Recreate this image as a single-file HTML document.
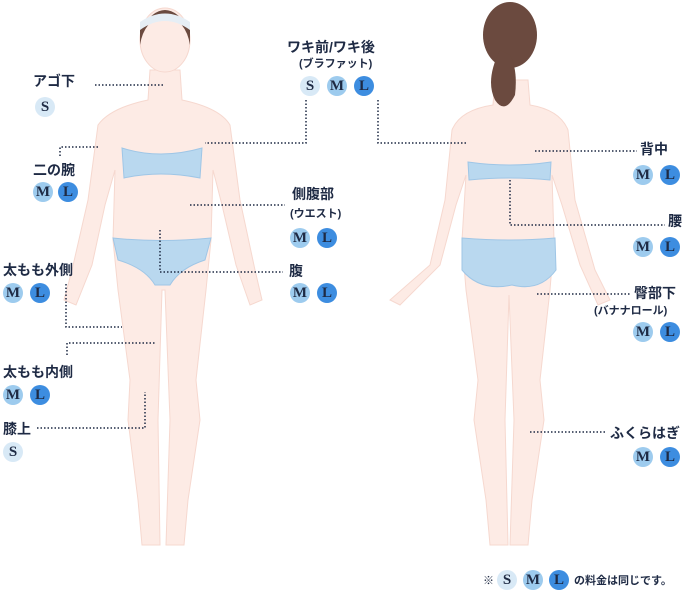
<!DOCTYPE html>
<html><head><meta charset="utf-8"><style>
body{margin:0;width:691px;height:594px;background:#fff;overflow:hidden;position:relative;font-family:"Liberation Sans","Noto Sans CJK JP",sans-serif;}
svg{position:absolute;left:0;top:0}
.t{position:absolute;font-weight:bold;color:#1e2a44;font-size:14px;line-height:16px;white-space:nowrap}
.s{font-size:11px;line-height:12px}
.b{position:absolute;width:20px;height:20px;border-radius:50%;font-family:"Liberation Serif",serif;font-weight:bold;font-size:15px;line-height:20px;text-align:center;color:#1e2a44}
.S{background:#d8e9f6}.M{background:#9dcbee}.L{background:#3d8de0}
</style></head><body>
<svg width="691" height="594" viewBox="0 0 691 594">
<g fill="#fdebe5" stroke="#f6d8cf" stroke-width="1">
<!-- front figure -->
<path d="M150 70 L180 70 L182 100 Q220 108 230 125 L240 200 L255 270 L262 300 L250 305 L236 265 L222 205 L213 170 L211 240 L206 290 L196 380 L200 420 L188 500 L184 545 L166 545 L170 420 L165 290 L162 290 L158 420 L160 545 L142 545 L138 500 L128 420 L130 380 L118 290 L113 240 L115 170 L105 205 L92 265 L76 305 L64 300 L72 270 L88 200 L98 125 Q110 108 148 100 Z"/>
<ellipse cx="165" cy="40" rx="25" ry="32"/>
<!-- back figure -->
<path d="M495 80 L528 80 L530 105 Q560 110 568 130 L575 200 L595 270 L610 300 L598 305 L580 265 L562 205 L552 175 L554 240 L550 290 L540 380 L544 420 L532 500 L528 545 L510 545 L514 420 L509 295 L505 420 L508 545 L490 545 L486 500 L474 420 L478 380 L466 290 L462 240 L466 175 L456 205 L440 265 L400 305 L390 300 L430 265 L445 200 L452 130 Q460 110 493 105 Z"/>
</g>
<ellipse cx="510" cy="35" rx="27" ry="33" fill="#6b4a3f"/>
<path d="M500 50 Q485 80 495 100 Q505 115 515 95 Q518 70 510 55 Z" fill="#6b4a3f"/>
<path d="M140 30 Q165 -10 190 30 L190 45 Q186 20 165 15 Q144 20 140 45Z" fill="#6b4a3f"/>
<path d="M140 22 Q165 5 190 22 L190 30 Q165 12 140 30Z" fill="#e6eef5"/>
<g fill="#b9d8ef" stroke="#9fc6e6">
<path d="M122 148 Q160 160 202 148 L200 178 Q160 170 124 178Z"/>
<path d="M113 238 Q160 243 211 238 L205 260 Q180 268 170 285 L155 285 Q145 268 118 260Z"/>
<path d="M468 162 Q510 168 551 162 L550 180 Q510 176 469 180Z"/>
<path d="M462 238 Q510 242 555 238 L556 270 Q540 292 512 285 Q480 292 462 270Z"/>
</g>
<g fill="none" stroke="#1e2a44" stroke-width="1.5" stroke-dasharray="1.5 2">
<path d="M95 85 H165"/>
<path d="M306 100 V143 H205"/>
<path d="M378 100 V143 H468"/>
<path d="M60 156 V147 H100"/>
<path d="M190 205 H285"/>
<path d="M160 230 V272 H283"/>
<path d="M66 284 V327 H122"/>
<path d="M67 355 V343 H156"/>
<path d="M37 428 H145 V392"/>
<path d="M535 151 H637"/>
<path d="M510 180 V225 H665"/>
<path d="M537 294 H630"/>
<path d="M530 432 H607"/>
</g>
</svg>
<div class="t" style="left:33px;top:73px">アゴ下</div>
<div class="b S" style="left:35px;top:97px">S</div>
<div class="t" style="left:287px;top:39px">ワキ前/ワキ後</div>
<div class="t s" style="left:299px;top:58px">(ブラファット)</div>
<div class="b S" style="left:300px;top:76px">S</div>
<div class="b M" style="left:327px;top:76px">M</div>
<div class="b L" style="left:354px;top:76px">L</div>
<div class="t" style="left:33px;top:162px">二の腕</div>
<div class="b M" style="left:33px;top:182px">M</div>
<div class="b L" style="left:58px;top:182px">L</div>
<div class="t" style="left:292px;top:186px">側腹部</div>
<div class="t s" style="left:290px;top:208px">(ウエスト)</div>
<div class="b M" style="left:290px;top:228px">M</div>
<div class="b L" style="left:317px;top:228px">L</div>
<div class="t" style="left:289px;top:263px">腹</div>
<div class="b M" style="left:290px;top:283px">M</div>
<div class="b L" style="left:317px;top:283px">L</div>
<div class="t" style="left:3px;top:262px">太もも外側</div>
<div class="b M" style="left:3px;top:283px">M</div>
<div class="b L" style="left:30px;top:283px">L</div>
<div class="t" style="left:3px;top:364px">太もも内側</div>
<div class="b M" style="left:3px;top:385px">M</div>
<div class="b L" style="left:30px;top:385px">L</div>
<div class="t" style="left:3px;top:421px">膝上</div>
<div class="b S" style="left:3px;top:442px">S</div>
<div class="t" style="left:640px;top:141px">背中</div>
<div class="b M" style="left:633px;top:165px">M</div>
<div class="b L" style="left:660px;top:165px">L</div>
<div class="t" style="left:668px;top:213px">腰</div>
<div class="b M" style="left:633px;top:237px">M</div>
<div class="b L" style="left:660px;top:237px">L</div>
<div class="t" style="left:634px;top:285px">臀部下</div>
<div class="t s" style="left:594px;top:305px">(バナナロール)</div>
<div class="b M" style="left:633px;top:322px">M</div>
<div class="b L" style="left:660px;top:322px">L</div>
<div class="t" style="left:610px;top:425px">ふくらはぎ</div>
<div class="b M" style="left:633px;top:447px">M</div>
<div class="b L" style="left:660px;top:447px">L</div>
<div class="t s" style="left:483px;top:575px">※</div>
<div class="b S" style="left:497px;top:570px">S</div>
<div class="b M" style="left:523px;top:570px">M</div>
<div class="b L" style="left:549px;top:570px">L</div>
<div class="t s" style="left:574px;top:575px">の料金は同じです。</div>
</body></html>
